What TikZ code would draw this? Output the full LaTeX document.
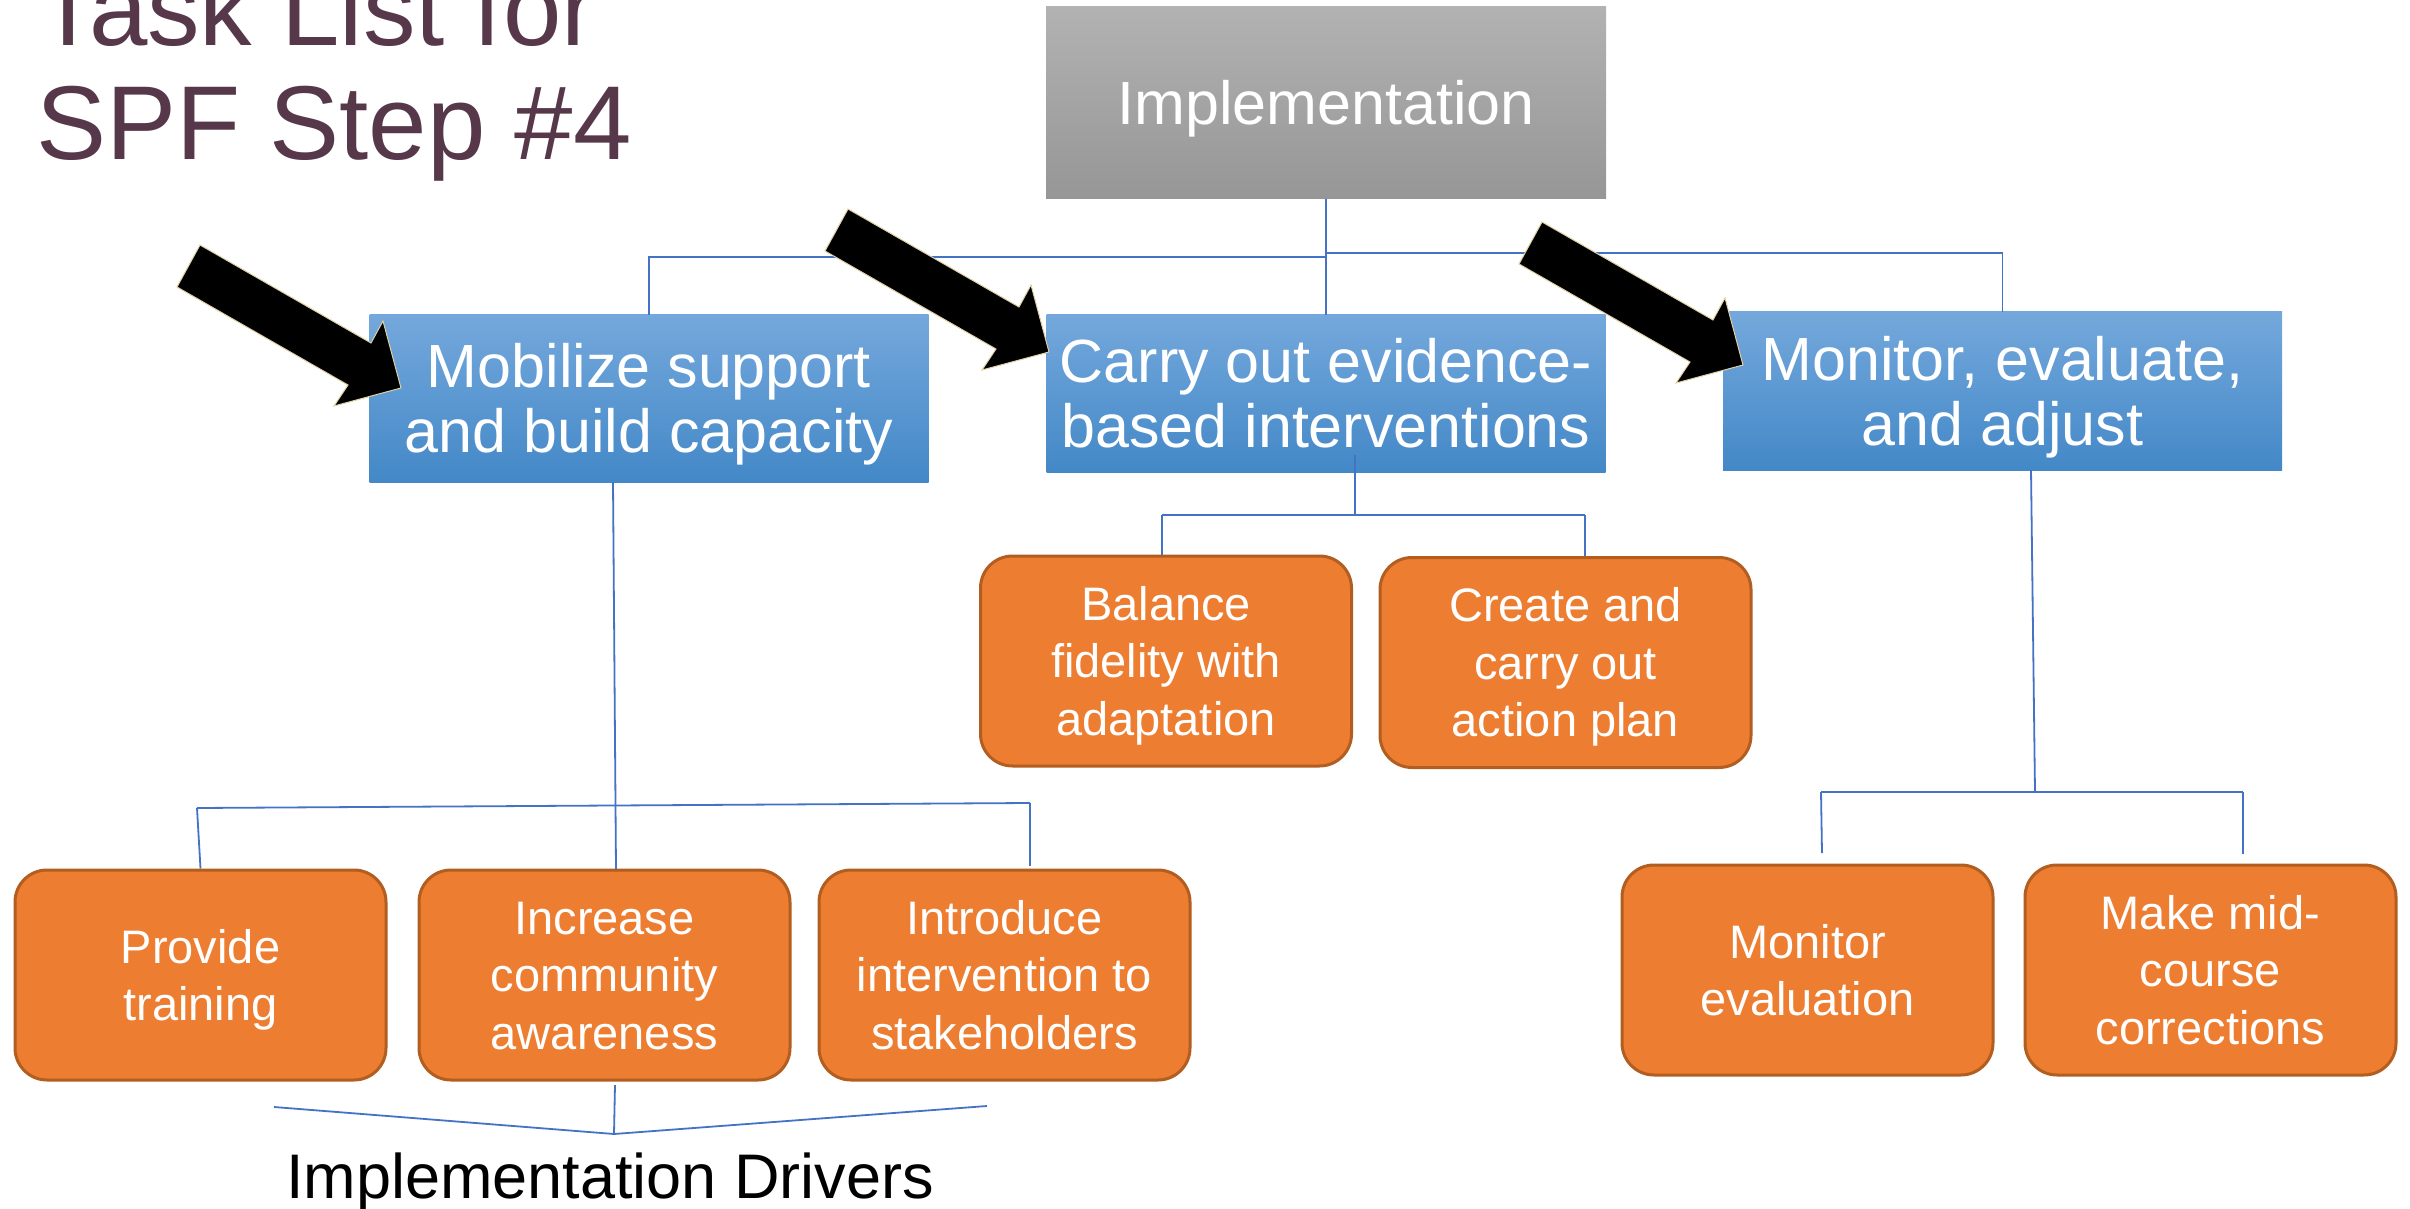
\documentclass[tikz,border=0pt]{standalone}
\usepackage{fontspec}
\setmainfont{Liberation Sans}
\usetikzlibrary{calc}
\definecolor{titlec}{RGB}{87,56,74}
\definecolor{bluetop}{RGB}{116,168,220}
\definecolor{bluebot}{RGB}{67,136,199}
\definecolor{graytop}{RGB}{178,178,178}
\definecolor{graybot}{RGB}{150,150,150}
\definecolor{orfill}{RGB}{237,125,49}
\definecolor{ordraw}{RGB}{178,94,32}
\definecolor{conn}{RGB}{68,114,196}
\definecolor{arrowedge}{RGB}{225,210,165}
\newcommand\TopS{\rule{0pt}{1.016em}}
\newcommand\BotS{\rule[-0.3em]{0pt}{0.3em}}
\begin{document}
\begin{tikzpicture}[x=0.5pt,y=-0.5pt,
  topbox/.style={rectangle, inner sep=0pt, top color=graytop, bottom color=graybot, text=white,
    font=\fontsize{30.5}{32}\selectfont, minimum width=280pt, minimum height=96pt},
  bluebox/.style={rectangle, inner sep=0pt, top color=bluetop, bottom color=bluebot, text=white,
    align=center, font=\fontsize{30.5}{32.5}\selectfont, minimum width=279.5pt},
  orbox/.style={rectangle, rounded corners=16pt, inner sep=0pt, fill=orfill, draw=ordraw,
    line width=1.5pt, text=white, align=center, font=\fontsize{23.5}{28.8}\selectfont,
    minimum width=185.5pt, minimum height=105pt},
  link/.style={draw=conn, line width=0.9pt},
  blkarrow/.pic={\filldraw[fill=black, draw=arrowedge, line width=0.5pt, miter limit=20]
    (-201,-143) -- (-30,-45) -- (-18,-67) -- (0,0) -- (-67,18) -- (-53,-3) -- (-224,-101) -- cycle;}
]
\useasboundingbox (0,0) rectangle (2410,1209);
\fill[white] (0,0) rectangle (2410,1209);

% title
\node[anchor=base west, inner sep=0pt, text=titlec, font=\fontsize{52.5}{57}\selectfont] (t1) at (36,46) {Task List for};
\node[anchor=base west, inner sep=0pt, text=titlec, font=\fontsize{52.5}{57}\selectfont] (t2) at (36,160) {SPF Step \#4};

% boxes
\node[topbox] (impl) at (1326,103) {\TopS Implementation\BotS};
\node[bluebox, minimum height=83.5pt] (mob) at (649,398.5) {\TopS Mobilize support\\and build capacity\BotS};
\node[bluebox, minimum height=78.5pt] (carry) at (1326,393.5) {\TopS Carry out evidence-\\based interventions\BotS};
\node[bluebox, minimum height=79pt] (mon) at (2002.5,391) {\TopS Monitor, evaluate,\\and adjust\BotS};

\node[orbox] (prov) at (200.5,975) {\TopS Provide\\training\BotS};
\node[orbox] (inc) at (604.5,975) {\TopS Increase\\community\\awareness\BotS};
\node[orbox] (intro) at (1004.5,975) {\TopS Introduce\\intervention to\\stakeholders\BotS};
\node[orbox] (bal) at (1166,661) {\TopS Balance\\fidelity with\\adaptation\BotS};
\node[orbox] (cre) at (1565.5,662.5) {\TopS Create and\\carry out\\action plan\BotS};
\node[orbox] (meval) at (1807.5,970) {\TopS Monitor\\evaluation\BotS};
\node[orbox] (mid) at (2210.5,970) {\TopS Make mid-\\course\\corrections\BotS};

\node[anchor=base, inner sep=0pt, font=\fontsize{31.5}{36}\selectfont] (drv) at (610,1198) {Implementation Drivers};

% connectors: top level
\coordinate (jL) at (1326,257);
\coordinate (jR) at (1326,253);
\draw[link] (impl.south) -- (carry.north);
\draw[link] (mob.north) |- (jL);
\draw[link] (jR) -| (mon.north);

% Mobilize branch
\coordinate (mbot) at (613,482);
\coordinate (itop) at (616,869);
\draw[link] (mbot) -- (itop);
\coordinate (bl) at (197,808);
\coordinate (br) at (1030,803);
\draw[link] (bl) -- (br);
\draw[link] (bl) -- (prov.north);
\coordinate (irt) at (1030,866);
\draw[link] (br) -- (irt);

% drivers brace
\coordinate (dl) at (274,1107);
\coordinate (dm) at (614,1134);
\coordinate (dr) at (987,1106);
\coordinate (ibot) at (615,1085);
\draw[link] (dl) -- (dm) -- (dr);
\draw[link] (ibot) -- (dm);

% Carry branch
\coordinate (cb) at (1355,455);
\coordinate (cj) at (1355,515);
\coordinate (cl) at (1162,515);
\coordinate (cr) at (1585,515);
\draw[link] (cb) -- (cj);
\draw[link] (cl) -- (cr);
\draw[link] (cl) -- (cl |- bal.north);
\draw[link] (cr) -- (cr |- cre.north);

% Monitor branch
\coordinate (mb) at (2031,470);
\coordinate (mj) at (2035,792);
\coordinate (ml) at (1821,792);
\coordinate (mr) at (2243,792);
\coordinate (mle) at (1822,853);
\coordinate (mre) at (2243,854);
\draw[link] (mb) -- (mj);
\draw[link] (ml) -- (mr);
\draw[link] (ml) -- (mle);
\draw[link] (mr) -- (mre);

% black arrows
\pic at (401,388) {blkarrow};
\pic at (1049,352) {blkarrow};
\pic at (1743,365) {blkarrow};
\end{tikzpicture}
\end{document}
